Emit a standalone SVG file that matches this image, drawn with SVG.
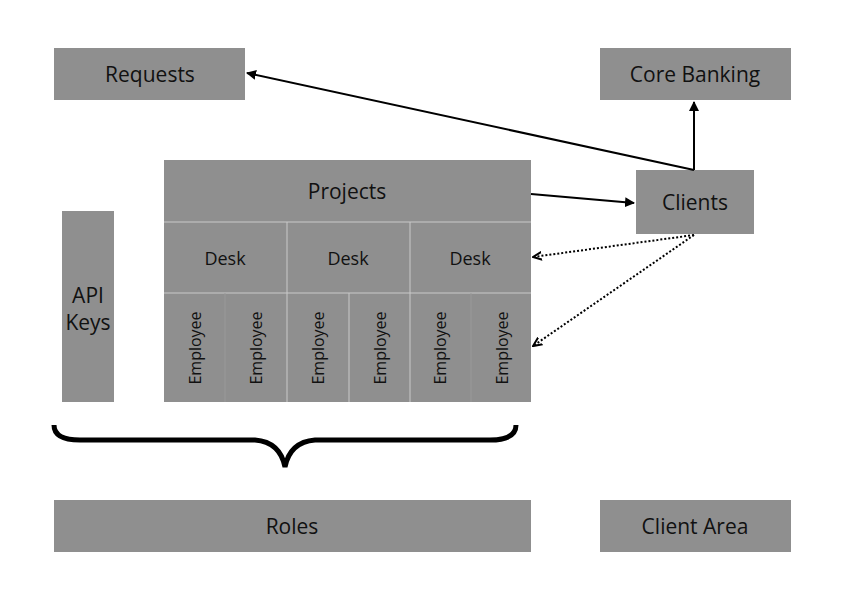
<svg xmlns="http://www.w3.org/2000/svg" width="845" height="603" viewBox="0 0 845 603">
<style>
.b{fill:#8f8f8f}
.l{fill:#111;font-family:"Open Sans",sans-serif;font-size:21px;text-anchor:middle;dominant-baseline:central}
.l.d{font-size:18px}
.l.e{font-size:16px}
.sep{stroke:#c9c9c9;stroke-width:1}
.sep2{stroke:#999;stroke-width:1}
.c{stroke:#000;stroke-width:2;fill:none}
.dot{stroke:#000;stroke-width:2;fill:none;stroke-dasharray:2 2}
</style>
<defs>
<marker id="a" viewBox="0 0 10 10" refX="9" refY="5" markerWidth="5" markerHeight="5" orient="auto"><path d="M0,0 L10,5 L0,10 z" fill="#000"/></marker>
<marker id="o" viewBox="0 0 10 10" refX="9" refY="5" markerWidth="5" markerHeight="5" orient="auto"><path d="M0,1 L9,5 L0,9" fill="none" stroke="#000" stroke-width="2"/></marker>
</defs>
<rect width="845" height="603" fill="#fff"/>
<g id="requests"><rect class="b" x="54" y="48" width="191" height="52"/><text class="l" x="150" y="74">Requests</text></g>
<g id="core-banking"><rect class="b" x="600" y="48" width="191" height="52"/><text class="l" x="695" y="74">Core Banking</text></g>
<g id="clients"><rect class="b" x="636" y="170" width="118" height="64"/><text class="l" x="695" y="202">Clients</text></g>
<g id="api-keys"><rect class="b" x="62" y="211" width="52" height="191"/><text class="l" x="88" y="295">API</text><text class="l" x="88" y="322">Keys</text></g>
<g id="projects">
<rect class="b" x="164" y="160" width="367" height="242"/>
<line class="sep" x1="164" y1="222" x2="531" y2="222"/>
<line class="sep" x1="164" y1="293" x2="531" y2="293"/>
<line class="sep" x1="287" y1="222" x2="287" y2="402"/>
<line class="sep" x1="410" y1="222" x2="410" y2="402"/>
<line class="sep" x1="349" y1="293" x2="349" y2="402"/>
<line class="sep2" x1="225" y1="293" x2="225" y2="402"/>
<line class="sep2" x1="471" y1="293" x2="471" y2="402"/>
<text class="l" x="347" y="191">Projects</text>
<text class="l d" x="225" y="258">Desk</text>
<text class="l d" x="348" y="258">Desk</text>
<text class="l d" x="470" y="258">Desk</text>
<text class="l e" transform="translate(195,348) rotate(-90)">Employee</text>
<text class="l e" transform="translate(256,348) rotate(-90)">Employee</text>
<text class="l e" transform="translate(318,348) rotate(-90)">Employee</text>
<text class="l e" transform="translate(380,348) rotate(-90)">Employee</text>
<text class="l e" transform="translate(440,348) rotate(-90)">Employee</text>
<text class="l e" transform="translate(502,348) rotate(-90)">Employee</text>
</g>
<g id="roles"><rect class="b" x="54" y="500" width="477" height="52"/><text class="l" x="292" y="526">Roles</text></g>
<g id="client-area"><rect class="b" x="600" y="500" width="191" height="52"/><text class="l" x="695" y="526">Client Area</text></g>
<g id="brace"><path d="M54,425 Q54,440 80,440 L255,440 Q280,442 285,467 Q290,442 315,440 L490,440 Q516,440 516,425" fill="none" stroke="#000" stroke-width="5"/></g>
<g id="connectors">
<path class="c" d="M694,170 L694,102" marker-end="url(#a)"/>
<path class="c" d="M694,170 L247,73" marker-end="url(#a)"/>
<path class="c" d="M531,194 L634,203" marker-end="url(#a)"/>
<path class="dot" d="M694,235 L533,257" marker-end="url(#o)"/>
<path class="dot" d="M694,235 L533,346" marker-end="url(#o)"/>
</g>
</svg>
